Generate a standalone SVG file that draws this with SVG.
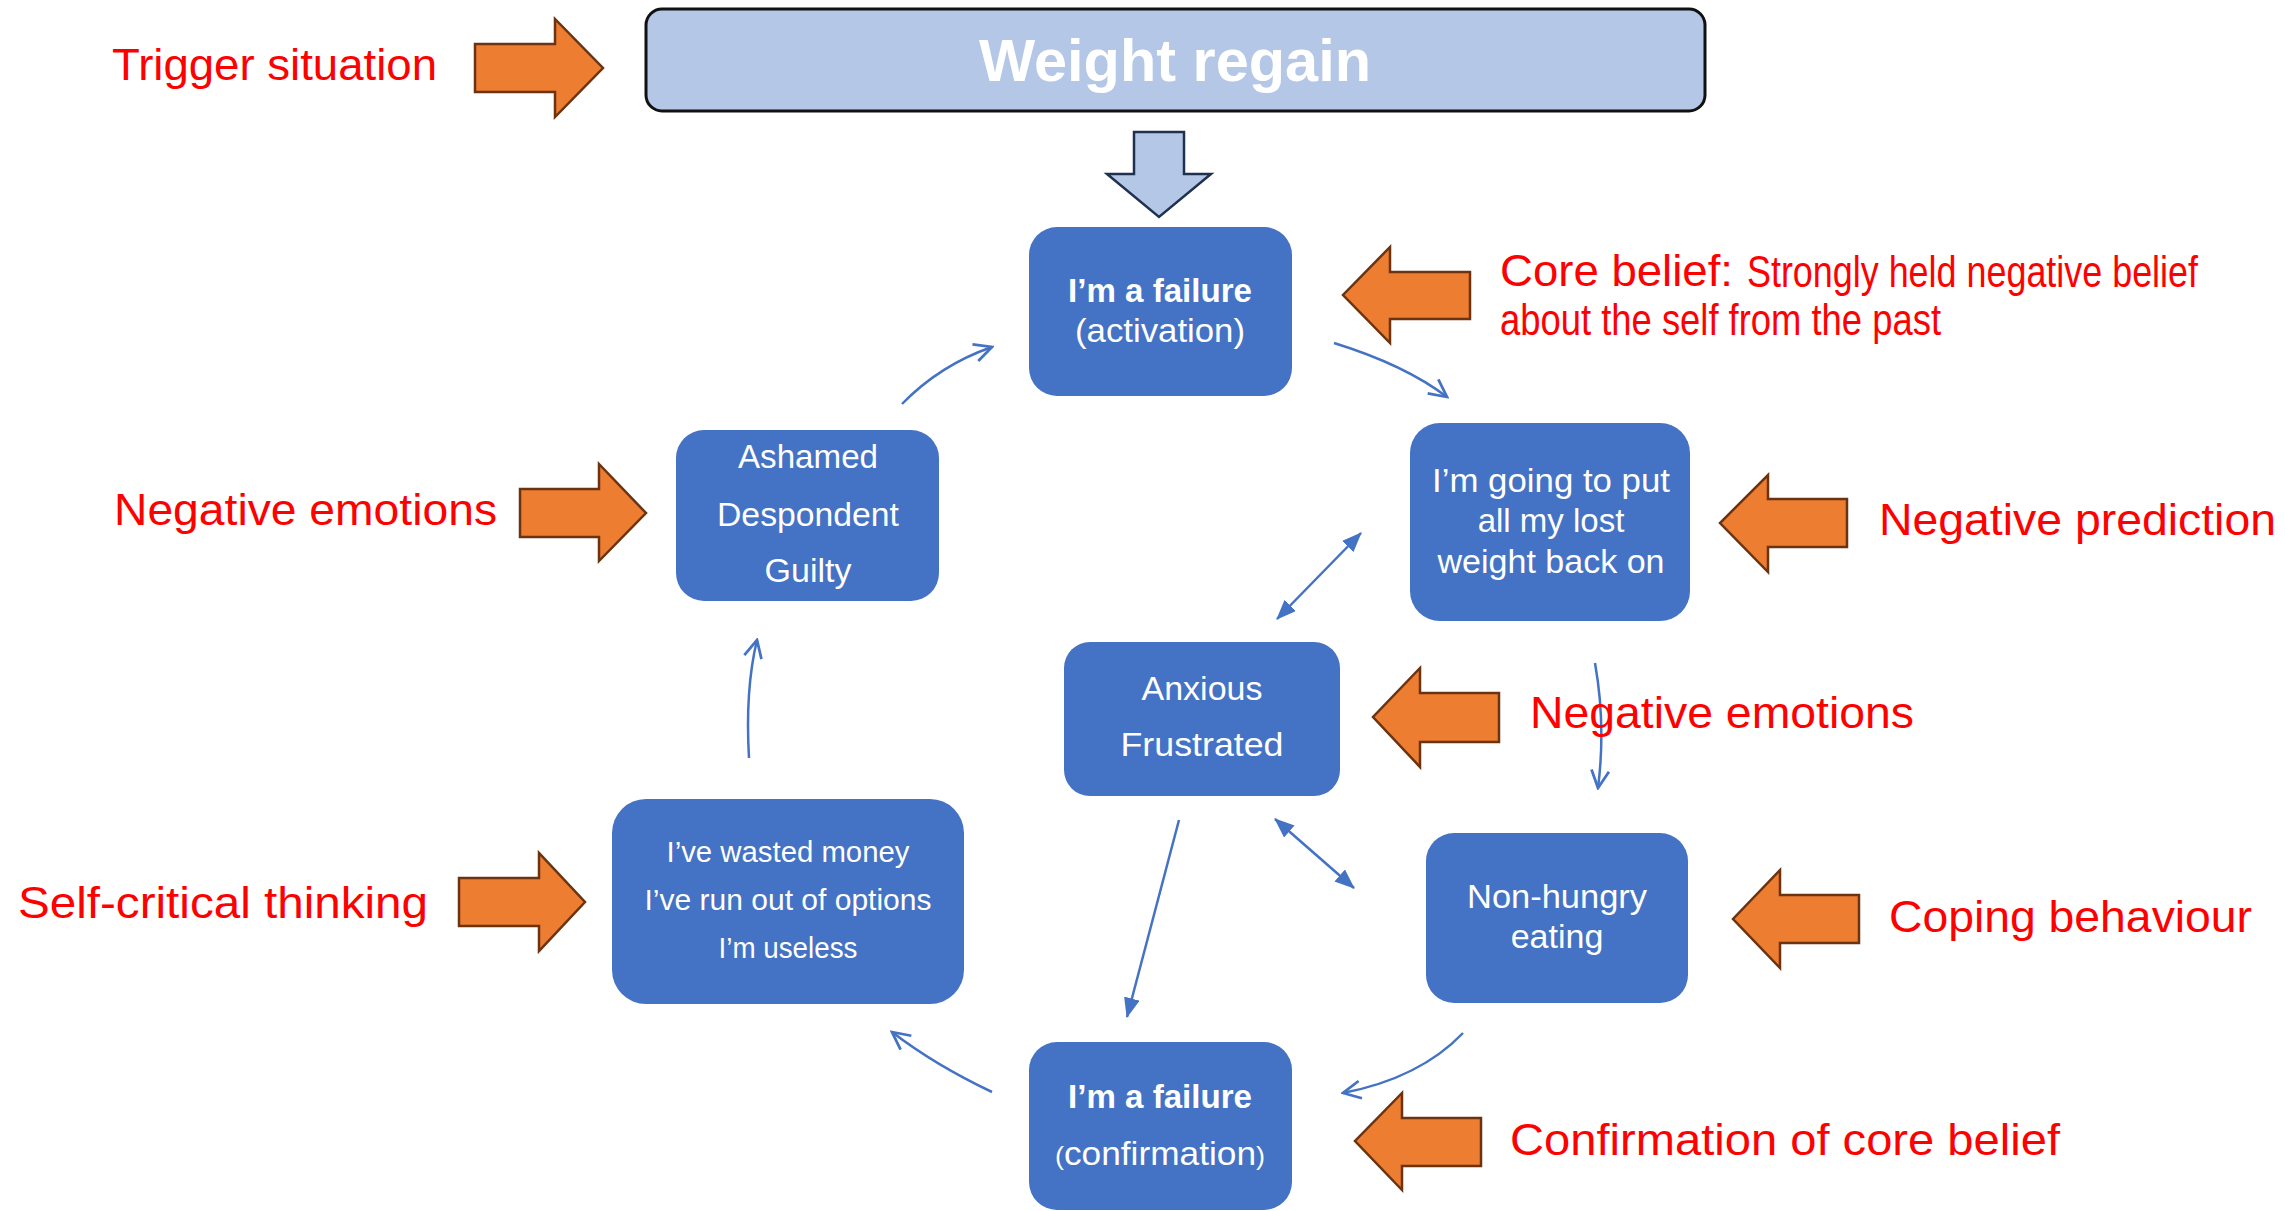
<svg xmlns="http://www.w3.org/2000/svg" width="2285" height="1211" viewBox="0 0 2285 1211">
<style>
  .node { fill: #4472C4; }
  .ntxt { fill: #FFFFFF; font-family: "Liberation Sans", Arial, sans-serif; text-anchor: middle; }
  .lbl { fill: #FF0000; font-family: "Liberation Sans", Arial, sans-serif; font-size: 45px; }
  .orange { fill: #ED7D31; stroke: #6B3310; stroke-width: 2.5; stroke-linejoin: miter; }
  .conn { fill: none; stroke: #4472C4; stroke-width: 2.5; }
</style>
<defs>
  <marker id="openArrow" viewBox="0 0 20 20" refX="18" refY="10" markerWidth="22" markerHeight="22" markerUnits="userSpaceOnUse" orient="auto">
    <path d="M2,2 L18,10 L2,18" fill="none" stroke="#4472C4" stroke-width="2.5"/>
  </marker>
  <marker id="solidArrow" viewBox="0 0 20 16" refX="19" refY="8" markerWidth="20" markerHeight="16" markerUnits="userSpaceOnUse" orient="auto-start-reverse">
    <path d="M0,0 L20,8 L0,16 Z" fill="#4472C4"/>
  </marker>
</defs>

<g id="trigger">
  <rect x="646" y="9" width="1059" height="102" rx="16" ry="16" fill="#B4C7E7" stroke="#111111" stroke-width="3"/>
  <text class="ntxt" x="1175" y="81" font-size="59" font-weight="bold" textLength="392" lengthAdjust="spacingAndGlyphs">Weight regain</text>
</g>
<g id="down-arrow">
  <path d="M1134,132 H1184 V174 H1211 L1159,217 L1107,174 H1134 Z" fill="#B4C7E7" stroke="#1F3050" stroke-width="2.5"/>
</g>

<g id="node-activation">
  <rect class="node" x="1029" y="227" width="263" height="169" rx="28" ry="28"/>
  <text class="ntxt" x="1160" y="302" font-size="33" font-weight="bold" textLength="184" lengthAdjust="spacingAndGlyphs">I’m a failure</text>
  <text class="ntxt" x="1160" y="342" font-size="33" textLength="170" lengthAdjust="spacingAndGlyphs">(activation)</text>
</g>
<g id="node-prediction">
  <rect class="node" x="1410" y="423" width="280" height="198" rx="30" ry="30"/>
  <text class="ntxt" x="1551" y="492" font-size="33" textLength="238" lengthAdjust="spacingAndGlyphs">I’m going to put</text>
  <text class="ntxt" x="1551" y="532" font-size="33">all my lost</text>
  <text class="ntxt" x="1551" y="573" font-size="33" textLength="227" lengthAdjust="spacingAndGlyphs">weight back on</text>
</g>
<g id="node-anxious">
  <rect class="node" x="1064" y="642" width="276" height="154" rx="26" ry="26"/>
  <text class="ntxt" x="1202" y="700" font-size="34">Anxious</text>
  <text class="ntxt" x="1202" y="756" font-size="34" textLength="163" lengthAdjust="spacingAndGlyphs">Frustrated</text>
</g>
<g id="node-ashamed">
  <rect class="node" x="676" y="430" width="263" height="171" rx="28" ry="28"/>
  <text class="ntxt" x="808" y="468" font-size="34" textLength="140" lengthAdjust="spacingAndGlyphs">Ashamed</text>
  <text class="ntxt" x="808" y="526" font-size="34" textLength="182" lengthAdjust="spacingAndGlyphs">Despondent</text>
  <text class="ntxt" x="808" y="582" font-size="34">Guilty</text>
</g>
<g id="node-eating">
  <rect class="node" x="1426" y="833" width="262" height="170" rx="28" ry="28"/>
  <text class="ntxt" x="1557" y="908" font-size="34" textLength="180" lengthAdjust="spacingAndGlyphs">Non-hungry</text>
  <text class="ntxt" x="1557" y="948" font-size="34">eating</text>
</g>
<g id="node-selfcritical">
  <rect class="node" x="612" y="799" width="352" height="205" rx="34" ry="34"/>
  <text class="ntxt" x="788" y="862" font-size="30" textLength="243" lengthAdjust="spacingAndGlyphs">I’ve wasted money</text>
  <text class="ntxt" x="788" y="910" font-size="30" textLength="287" lengthAdjust="spacingAndGlyphs">I’ve run out of options</text>
  <text class="ntxt" x="788" y="958" font-size="30" textLength="139" lengthAdjust="spacingAndGlyphs">I’m useless</text>
</g>
<g id="node-confirmation">
  <rect class="node" x="1029" y="1042" width="263" height="168" rx="28" ry="28"/>
  <text class="ntxt" x="1160" y="1108" font-size="33" font-weight="bold" textLength="184" lengthAdjust="spacingAndGlyphs">I’m a failure</text>
  <text class="ntxt" x="1160" y="1165" font-size="34" textLength="210" lengthAdjust="spacingAndGlyphs"><tspan font-size="26">(</tspan>confirmation<tspan font-size="26">)</tspan></text>
</g>

<g id="connectors">
  <path class="conn" d="M902,404 Q940,365 992,347" marker-end="url(#openArrow)"/>
  <path class="conn" d="M1334,343 Q1405,365 1447,397" marker-end="url(#openArrow)"/>
  <path class="conn" d="M1595,663 Q1606,725 1598,788" marker-end="url(#openArrow)"/>
  <path class="conn" d="M1277,619 L1361,533" marker-start="url(#solidArrow)" marker-end="url(#solidArrow)"/>
  <path class="conn" d="M1275,819 L1354,888" marker-start="url(#solidArrow)" marker-end="url(#solidArrow)"/>
  <path class="conn" d="M1179,820 L1127,1017" marker-end="url(#solidArrow)"/>
  <path class="conn" d="M1463,1033 Q1420,1078 1343,1093" marker-end="url(#openArrow)"/>
  <path class="conn" d="M992,1092 Q935,1065 892,1032" marker-end="url(#openArrow)"/>
  <path class="conn" d="M749,758 Q745,690 757,640" marker-end="url(#openArrow)"/>
</g>

<g id="label-trigger">
  <path class="orange" d="M475,44 H555 V19 L603,68 L555,117 V92 H475 Z"/>
  <text class="lbl" x="112" y="80" textLength="325" lengthAdjust="spacingAndGlyphs">Trigger situation</text>
</g>
<g id="label-negemo-left">
  <path class="orange" d="M520,489 H599 V464 L646,513 L599,561 V537 H520 Z"/>
  <text class="lbl" x="114" y="525" textLength="383" lengthAdjust="spacingAndGlyphs">Negative emotions</text>
</g>
<g id="label-selfcritical">
  <path class="orange" d="M459,878 H539 V853 L585,902 L539,951 V926 H459 Z"/>
  <text class="lbl" x="18" y="918" textLength="410" lengthAdjust="spacingAndGlyphs">Self-critical thinking</text>
</g>
<g id="label-corebelief">
  <path class="orange" d="M1470,272 H1390 V247 L1343,295 L1390,343 V319 H1470 Z"/>
  <text class="lbl" x="1500" y="286" textLength="233" lengthAdjust="spacingAndGlyphs">Core belief:</text>
  <text class="lbl" x="1747" y="287" font-size="32" textLength="451" lengthAdjust="spacingAndGlyphs">Strongly held negative belief</text>
  <text class="lbl" x="1500" y="335" font-size="34" textLength="441" lengthAdjust="spacingAndGlyphs">about the self from the past</text>
</g>
<g id="label-prediction">
  <path class="orange" d="M1847,499 H1768 V475 L1720,523 L1768,572 V547 H1847 Z"/>
  <text class="lbl" x="1879" y="535" textLength="397" lengthAdjust="spacingAndGlyphs">Negative prediction</text>
</g>
<g id="label-negemo-right">
  <path class="orange" d="M1499,693 H1420 V668 L1373,717 L1420,767 V742 H1499 Z"/>
  <text class="lbl" x="1530" y="728" textLength="384" lengthAdjust="spacingAndGlyphs">Negative emotions</text>
</g>
<g id="label-coping">
  <path class="orange" d="M1859,895 H1780 V870 L1733,919 L1780,968 V943 H1859 Z"/>
  <text class="lbl" x="1889" y="932" textLength="363" lengthAdjust="spacingAndGlyphs">Coping behaviour</text>
</g>
<g id="label-confirmation">
  <path class="orange" d="M1481,1118 H1402 V1093 L1355,1141 L1402,1190 V1166 H1481 Z"/>
  <text class="lbl" x="1510" y="1155" textLength="550" lengthAdjust="spacingAndGlyphs">Confirmation of core belief</text>
</g>
</svg>
